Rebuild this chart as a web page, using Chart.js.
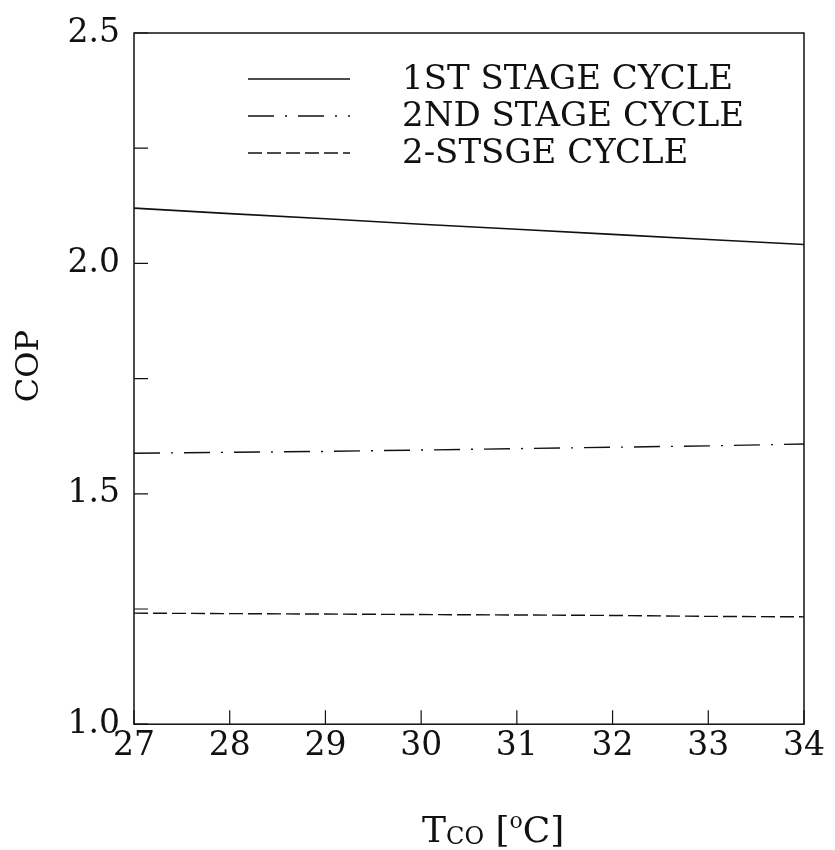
<!DOCTYPE html>
<html>
<head>
<meta charset="utf-8">
<script src="https://cdn.jsdelivr.net/npm/chart.js@4"></script>
<style>
  html, body { margin: 0; padding: 0; background: #fff; }
  #wrap { width: 835px; height: 850px; position: relative; }
</style>
</head>
<body>
<div id="wrap"><canvas id="copChart"></canvas></div>
<script>
// === DATA ===
const tco = [27, 28, 29, 30, 31, 32, 33, 34];
const cop1st = [2.120, 2.108, 2.097, 2.085, 2.074, 2.063, 2.052, 2.041];
const cop2nd = [1.588, 1.590, 1.592, 1.595, 1.598, 1.601, 1.604, 1.608];
const cop2stage = [1.241, 1.240, 1.239, 1.238, 1.237, 1.236, 1.234, 1.233];
const seriesNames = ["1ST STAGE CYCLE", "2ND STAGE CYCLE", "2-STSGE CYCLE"];
const yLabelTicks = [1.0, 1.5, 2.0, 2.5];

const FONT = "'DejaVu Serif', 'Liberation Serif', serif";
const INK = "#111";

// frame, inward ticks, legend and axis titles
const decoPlugin = {
    id: "deco",
    afterDraw(chart) {
        const ctx = chart.ctx;
        const a = chart.chartArea;
        const xs = chart.scales.x, ys = chart.scales.y;
        const tl = 14;
        ctx.save();
        ctx.strokeStyle = INK;
        ctx.lineWidth = 1.5;
        ctx.setLineDash([]);
        ctx.strokeRect(a.left, a.top, a.right - a.left, a.bottom - a.top);

        ctx.lineWidth = 1.2;
        ctx.beginPath();
        xs.ticks.forEach(t => {
            const px = xs.getPixelForValue(t.value);
            ctx.moveTo(px, a.bottom);
            ctx.lineTo(px, a.bottom - tl);
        });
        ys.ticks.forEach(t => {
            const py = ys.getPixelForValue(t.value);
            ctx.moveTo(a.left, py);
            ctx.lineTo(a.left + tl, py);
        });
        ctx.stroke();

        // legend inside the plot
        const lx0 = a.left + 114, lx1 = a.left + 216, tx = a.left + 268;
        let ly = a.top + 46;
        ctx.font = "34px " + FONT;
        ctx.textBaseline = "middle";
        ctx.fillStyle = INK;
        chart.data.datasets.forEach(ds => {
            ctx.lineWidth = ds.borderWidth;
            ctx.setLineDash(ds.borderDash || []);
            ctx.beginPath();
            ctx.moveTo(lx0, ly);
            ctx.lineTo(lx1, ly);
            ctx.stroke();
            ctx.setLineDash([]);
            ctx.fillText(ds.label, tx, ly + 1);
            ly += 37;
        });

        // y axis title
        ctx.save();
        ctx.translate(30, 366);
        ctx.rotate(-Math.PI / 2);
        ctx.font = "32px " + FONT;
        ctx.textAlign = "center";
        ctx.textBaseline = "middle";
        ctx.fillText("COP", 0, 0);
        ctx.restore();

        // x axis title: T_CO [°C]
        let x = 422;
        const y = 842;
        ctx.textBaseline = "alphabetic";
        const part = (txt, size, dy) => {
            ctx.font = size + "px " + FONT;
            ctx.fillText(txt, x, y + dy);
            x += ctx.measureText(txt).width;
        };
        part("T", 36, 0);
        part("CO", 24, 2);
        part(" [", 36, 0);
        part("o", 22, -14);
        part("C]", 36, 0);
        ctx.restore();
    }
};

const ctx = document.getElementById("copChart");

new Chart(ctx, {
    type: "line",
    data: {
        datasets: [
            {
                label: seriesNames[0],
                data: tco.map((t, i) => ({ x: t, y: cop1st[i] })),
                borderColor: INK, borderWidth: 1.6, pointRadius: 0
            },
            {
                label: seriesNames[1],
                data: tco.map((t, i) => ({ x: t, y: cop2nd[i] })),
                borderColor: INK, borderWidth: 1.4, pointRadius: 0,
                borderDash: [26, 11, 2, 11]
            },
            {
                label: seriesNames[2],
                data: tco.map((t, i) => ({ x: t, y: cop2stage[i] })),
                borderColor: INK, borderWidth: 1.4, pointRadius: 0,
                borderDash: [14, 5]
            }
        ]
    },
    options: {
        responsive: true,
        maintainAspectRatio: false,
        animation: false,
        layout: { padding: { top: 33, right: 31, bottom: 0, left: 0 } },
        plugins: { legend: { display: false }, tooltip: { enabled: false } },
        scales: {
            x: {
                type: "linear",
                min: 27, max: 34,
                ticks: { stepSize: 1, color: INK, font: { family: FONT, size: 33 }, padding: 2, maxRotation: 0 },
                grid: { display: false, drawTicks: false },
                border: { display: false },
                title: { display: true, text: " ", font: { size: 36 }, padding: { top: 22, bottom: 17 } },
                afterFit(scale) { scale.paddingLeft = 0; scale.paddingRight = 0; }
            },
            y: {
                min: 1.0, max: 2.5,
                ticks: {
                    stepSize: 0.25, color: INK, font: { family: FONT, size: 33 }, padding: 14,
                    callback: v => yLabelTicks.includes(v) ? v.toFixed(1) : ""
                },
                grid: { display: false, drawTicks: false },
                border: { display: false },
                afterFit(scale) { scale.width = 134; scale.paddingTop = 0; scale.paddingBottom = 0; }
            }
        }
    },
    plugins: [decoPlugin]
});
</script>
</body>
</html>
